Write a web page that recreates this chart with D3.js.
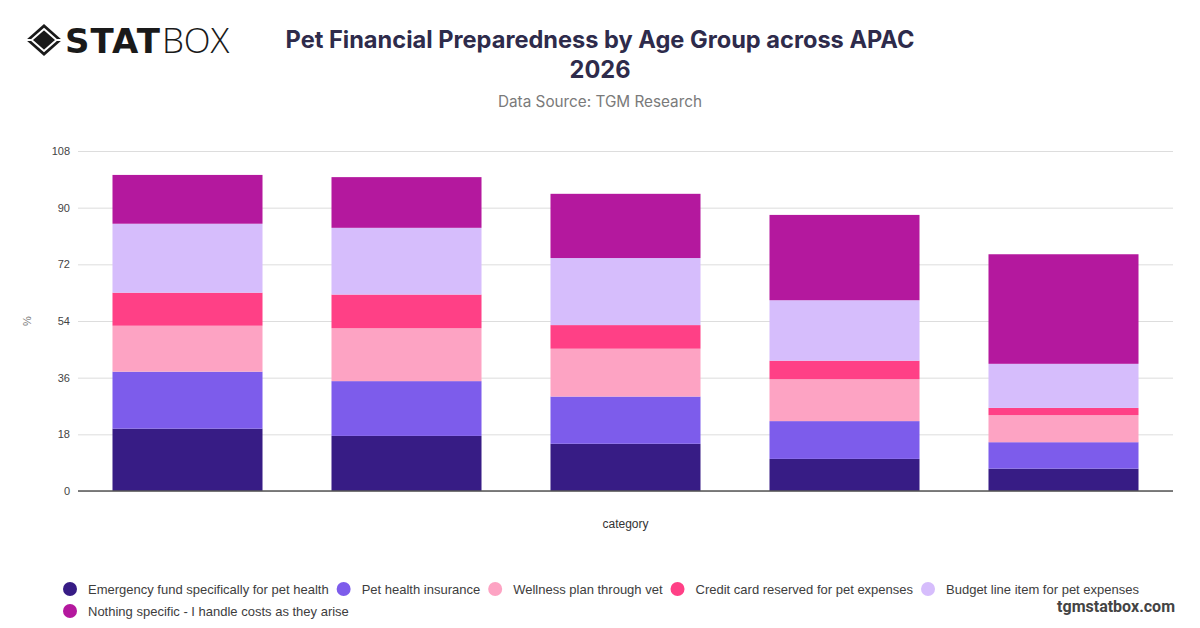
<!DOCTYPE html>
<html>
<head>
    <meta charset="UTF-8">
    <title>Pet Financial Preparedness by Age Group across APAC 2026</title>
    <script src="https://d3js.org/d3.v7.min.js"></script>
    <style>
        html, body { margin: 0; padding: 0; background: #fff; }
        svg { display: block; }
    </style>
</head>
<body>
    <div id="chart"></div>
    <script>
        // categories (age groups are not labelled in the chart)
        const categories = ['18-24', '25-34', '35-44', '45-54', '55+'];

        const seriesNames = [
            'Emergency fund specifically for pet health',
            'Pet health insurance',
            'Wellness plan through vet',
            'Credit card reserved for pet expenses',
            'Budget line item for pet expenses',
            'Nothing specific - I handle costs as they arise'
        ];
        const seriesColors = ['#371c85', '#7d5ceb', '#fda3c3', '#ff4086', '#d6bdfc', '#b4189e'];

        // values per series, one entry per category
        const emergencyFund = [19.8, 17.5, 15.0, 10.2, 7.1];
        const petInsurance = [18.1, 17.4, 15.0, 12.0, 8.4];
        const wellnessPlan = [14.6, 16.8, 15.2, 13.3, 8.6];
        const creditCard = [10.5, 10.7, 7.5, 5.9, 2.3];
        const budgetLine = [21.9, 21.2, 21.3, 19.2, 14.0];
        const nothingSpecific = [15.5, 16.1, 20.4, 27.1, 34.8];

        const yTicks = [0, 18, 36, 54, 72, 90, 108];

        const seriesValues = [emergencyFund, petInsurance, wellnessPlan, creditCard, budgetLine, nothingSpecific];

        const W = 1200, H = 628;
        const margin = { left: 78, right: 27, top: 151, bottom: 137 };
        const plotW = W - margin.left - margin.right;
        const plotH = H - margin.top - margin.bottom;

        const svg = d3.select('#chart').append('svg')
            .attr('width', W).attr('height', H)
            .attr('viewBox', `0 0 ${W} ${H}`);

        // logo
        const logo = svg.append('g').attr('transform', 'translate(44,40)');
        logo.append('path')
            .attr('d', 'M0,-16 L18,0 L0,16 L-18,0 Z')
            .attr('fill', '#1a1a1a');
        logo.append('path')
            .attr('d', 'M0,-11 L12.5,0 L0,11 L-12.5,0 Z')
            .attr('fill', 'none').attr('stroke', '#fff').attr('stroke-width', 2);
        logo.append('path')
            .attr('d', 'M0,-7 L8,0 L0,7 L-8,0 Z')
            .attr('fill', '#1a1a1a');
        logo.append('line').attr('x1', -18).attr('y1', 0).attr('x2', -12.5).attr('y2', 0)
            .attr('stroke', '#fff').attr('stroke-width', 2);
        logo.append('line').attr('x1', 18).attr('y1', 0).attr('x2', 12.5).attr('y2', 0)
            .attr('stroke', '#fff').attr('stroke-width', 2);
        svg.append('text')
            .attr('x', 65).attr('y', 53)
            .style('font-family', '"DejaVu Sans", sans-serif')
            .style('font-weight', 900)
            .style('font-size', '34px')
            .style('letter-spacing', '1px')
            .attr('fill', '#1a1a1a')
            .text('STAT')
            .append('tspan')
            .style('font-family', '"Open Sans", sans-serif')
            .style('font-weight', 300)
            .style('font-size', '35px')
            .style('letter-spacing', '0px')
            .attr('dx', 1)
            .text('BOX');

        // titles
        svg.append('text')
            .attr('x', 600).attr('y', 48)
            .attr('text-anchor', 'middle')
            .style('font-family', 'Inter, sans-serif')
            .style('font-weight', 700)
            .style('font-size', '23.6px')
            .attr('fill', '#2e2b4b')
            .text('Pet Financial Preparedness by Age Group across APAC');
        svg.append('text')
            .attr('x', 600).attr('y', 78)
            .attr('text-anchor', 'middle')
            .style('font-family', 'Inter, sans-serif')
            .style('font-weight', 700)
            .style('font-size', '23.6px')
            .attr('fill', '#2e2b4b')
            .text('2026');
        svg.append('text')
            .attr('x', 600).attr('y', 107)
            .attr('text-anchor', 'middle')
            .style('font-family', 'Inter, sans-serif')
            .style('font-size', '15.3px')
            .attr('fill', '#7a7a7a')
            .text('Data Source: TGM Research');

        const g = svg.append('g').attr('transform', `translate(${margin.left},${margin.top})`);

        const x = d3.scaleBand()
            .domain(categories)
            .range([0, plotW])
            .paddingInner(0.315)
            .paddingOuter(0.1575);

        const y = d3.scaleLinear()
            .domain([0, 108])
            .range([plotH, 0]);

        // grid + y labels
        const yAxis = g.append('g')
            .call(d3.axisLeft(y).tickValues(yTicks).tickSize(-plotW).tickPadding(8));
        yAxis.select('.domain').remove();
        yAxis.selectAll('.tick line').attr('stroke', '#dddddd');
        yAxis.selectAll('.tick text')
            .style('font-family', '"Liberation Sans", Arial, sans-serif')
            .style('font-size', '11px')
            .attr('fill', '#444');

        // stacked bars
        const rows = categories.map((c, i) => {
            const row = { category: c };
            seriesNames.forEach((s, j) => { row[s] = seriesValues[j][i]; });
            return row;
        });
        const stacked = d3.stack().keys(seriesNames)(rows);

        g.selectAll('g.series')
            .data(stacked)
            .join('g')
            .attr('class', 'series')
            .attr('fill', (d, i) => seriesColors[i])
            .selectAll('rect')
            .data(d => d)
            .join('rect')
            .attr('x', d => x(d.data.category))
            .attr('width', x.bandwidth())
            .attr('y', d => y(d[1]))
            .attr('height', d => y(d[0]) - y(d[1]));

        // baseline
        g.append('line')
            .attr('x1', 0).attr('x2', plotW)
            .attr('y1', plotH).attr('y2', plotH)
            .attr('stroke', '#555').attr('stroke-width', 1.5);

        // axis titles
        svg.append('text')
            .attr('transform', `translate(31,${margin.top + y(54)}) rotate(-90)`)
            .attr('text-anchor', 'middle')
            .style('font-family', '"Liberation Sans", Arial, sans-serif')
            .style('font-size', '11px')
            .attr('fill', '#777')
            .text('%');
        svg.append('text')
            .attr('x', margin.left + plotW / 2).attr('y', 528)
            .attr('text-anchor', 'middle')
            .style('font-family', '"Liberation Sans", Arial, sans-serif')
            .style('font-size', '12px')
            .attr('fill', '#333')
            .text('category');

        // legend
        const legend = svg.append('g')
            .style('font-family', '"Liberation Sans", Arial, sans-serif')
            .style('font-size', '13px');
        let lx = 70, ly = 589;
        seriesNames.forEach((name, i) => {
            const item = legend.append('g');
            item.append('circle').attr('r', 7).attr('fill', seriesColors[i]);
            const t = item.append('text')
                .attr('x', 18).attr('dy', '0.35em')
                .attr('fill', '#3d3d3d')
                .text(name);
            const w = 18 + t.node().getComputedTextLength() + 15;
            if (lx + w > 1160) { lx = 70; ly += 22; }
            item.attr('transform', `translate(${lx},${ly})`);
            lx += w;
        });

        svg.append('text')
            .attr('x', 1175).attr('y', 612)
            .attr('text-anchor', 'end')
            .style('font-family', 'Roboto, sans-serif')
            .style('font-weight', 700)
            .style('font-size', '16px')
            .attr('fill', '#444')
            .text('tgmstatbox.com');
    </script>
</body>
</html>
